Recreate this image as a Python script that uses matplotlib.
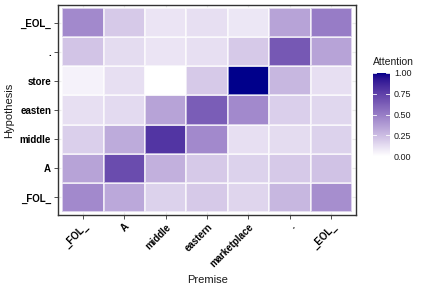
import numpy as np
import matplotlib
matplotlib.use("Agg")
import matplotlib.pyplot as plt
from matplotlib.colors import ListedColormap

premise = ["_FOL_", "A", "middle", "eastern", "marketplace", ".", "_EOL_"]
hypothesis = ["_FOL_", "A", "middle", "easten", "store", ".", "_EOL_"]  # bottom to top

# attention[row][col], rows in hypothesis order (bottom to top)
row_FOL = [0.45, 0.33, 0.17, 0.20, 0.16, 0.27, 0.43]
row_A = [0.35, 0.70, 0.30, 0.20, 0.17, 0.20, 0.23]
row_middle = [0.18, 0.32, 0.80, 0.45, 0.12, 0.13, 0.17]
row_easten = [0.12, 0.14, 0.35, 0.63, 0.45, 0.18, 0.15]
row_store = [0.05, 0.12, 0.00, 0.20, 1.00, 0.27, 0.12]
row_dot = [0.22, 0.13, 0.10, 0.12, 0.20, 0.65, 0.35]
row_EOL = [0.45, 0.20, 0.10, 0.12, 0.09, 0.35, 0.50]

data = np.array([row_FOL, row_A, row_middle, row_easten, row_store, row_dot, row_EOL])

# Lab interpolation white -> darkblue (like ggplot scale_fill_gradient)
def srgb_to_lab(rgb):
    rgb = np.asarray(rgb, float)
    lin = np.where(rgb <= 0.04045, rgb / 12.92, ((rgb + 0.055) / 1.055) ** 2.4)
    M = np.array([[0.4124, 0.3576, 0.1805], [0.2126, 0.7152, 0.0722], [0.0193, 0.1192, 0.9505]])
    xyz = M @ lin
    wp = np.array([0.95047, 1.0, 1.08883])
    t = xyz / wp
    f = np.where(t > (6/29) ** 3, np.cbrt(t), t / (3 * (6/29) ** 2) + 4/29)
    L = 116 * f[1] - 16
    a = 500 * (f[0] - f[1])
    b = 200 * (f[1] - f[2])
    return np.array([L, a, b])

def lab_to_srgb(lab):
    L, a, b = lab
    fy = (L + 16) / 116
    fx = fy + a / 500
    fz = fy - b / 200
    f = np.array([fx, fy, fz])
    t = np.where(f > 6/29, f ** 3, 3 * (6/29) ** 2 * (f - 4/29))
    wp = np.array([0.95047, 1.0, 1.08883])
    xyz = t * wp
    Minv = np.array([[3.2406, -1.5372, -0.4986], [-0.9689, 1.8758, 0.0415], [0.0557, -0.2040, 1.0570]])
    lin = Minv @ xyz
    lin = np.clip(lin, 0, 1)
    rgb = np.where(lin <= 0.0031308, 12.92 * lin, 1.055 * lin ** (1/2.4) - 0.055)
    return np.clip(rgb, 0, 1)

lo = srgb_to_lab([1, 1, 1])
hi = srgb_to_lab([0, 0, 0x8B / 255])
cols = [lab_to_srgb(lo + (hi - lo) * t) for t in np.linspace(0, 1, 256)]
cmap = ListedColormap(cols)

plt.rcParams['font.family'] = ['Liberation Sans', 'DejaVu Sans']

fig = plt.figure(figsize=(4.27, 2.85), dpi=100)
ax = fig.add_axes([0.136, 0.246, 0.698, 0.736])

n = len(premise)
xs = np.arange(n + 1) - 0.5
ys = np.arange(len(hypothesis) + 1) - 0.5
mesh = ax.pcolormesh(xs, ys, data, cmap=cmap, vmin=0, vmax=1,
                     edgecolors=(1, 1, 1, 0.6), linewidth=0.2, zorder=2)
ax.set_xlim(-0.6, n - 0.4)
ax.set_ylim(-0.6, len(hypothesis) - 0.4)

ax.set_xticks(range(n))
ax.set_yticks(range(len(hypothesis)))
ax.grid(True, color='#EBEBEB', linewidth=0.8, zorder=0)
ax.set_axisbelow(True)
ax.set_xticklabels(premise, rotation=45, ha='right', va='top', rotation_mode='anchor',
                   fontsize=7, fontweight='bold', color='black')
ax.set_yticklabels(hypothesis, fontsize=7, fontweight='bold', color='black')
ax.tick_params(axis='both', length=3, width=0.6, color='#333333', pad=2)
for s in ax.spines.values():
    s.set_color('#333333')
    s.set_linewidth(1.0)
ax.set_xlabel("Premise", fontsize=8, color='#1A1A1A', labelpad=4)
ax.set_ylabel("Hypothesis", fontsize=8, color='#1A1A1A', labelpad=4)

cax = fig.add_axes([0.873, 0.452, 0.04, 0.292])
cb = fig.colorbar(mesh, cax=cax, ticks=[0, 0.25, 0.5, 0.75, 1.0])
cb.outline.set_visible(False)
cb.ax.set_yticklabels(["0.00", "0.25", "0.50", "0.75", "1.00"])
cb.ax.tick_params(length=0, labelsize=6.5, labelcolor='#1A1A1A', pad=3)
for t in [0, 0.25, 0.5, 0.75, 1.0]:
    cax.plot([0, 0.2], [t, t], color='white', lw=0.6, transform=cax.get_yaxis_transform())
    cax.plot([0.8, 1.0], [t, t], color='white', lw=0.6, transform=cax.get_yaxis_transform())
fig.text(0.873, 0.765, "Attention", fontsize=7.5, color='#1A1A1A', ha='left', va='bottom')

fig.savefig("out.png", dpi=100)
